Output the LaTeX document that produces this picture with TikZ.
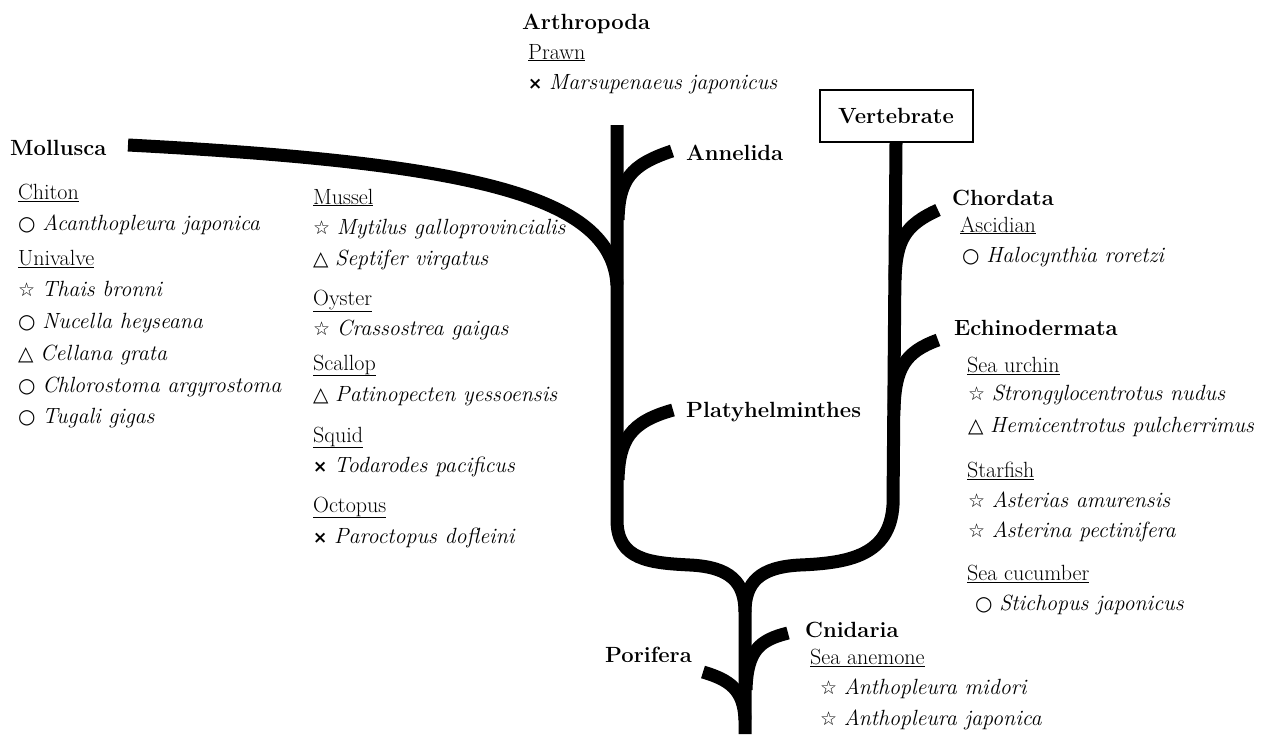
\documentclass[tikz,border=0pt]{standalone}
\usepackage{fontspec}
\newfontfamily\symfont{DejaVu Sans}
\newcommand{\spStar}{{\symfont\fontsize{19}{19}\selectfont ☆}}
\newcommand{\spCirc}{{\symfont\fontsize{20}{20}\selectfont ○}}
\newcommand{\spTri}{{\symfont\fontsize{20}{20}\selectfont △}}
\newcommand{\spCross}{{\symfont\bfseries\fontsize{17}{17}\selectfont ×}}
\tikzset{
  branch/.style={line width=13pt},
  lab/.style={anchor=base west, inner sep=0pt, font=\fontsize{22}{26}\selectfont},
  phylum/.style={lab, font=\fontsize{22}{26}\selectfont\bfseries},
}
\begin{document}
\begin{tikzpicture}[x=1pt, y=-1pt]
    \useasboundingbox (0,0) rectangle (1274,734);

    % Vertebrate box
    \node[draw, line width=2pt, minimum width=153pt, minimum height=52pt,
          font=\fontsize{22}{26}\selectfont\bfseries] (vert) at (896,116) {Vertebrate};

    % Tree
    \draw[branch] (617,125) -- (617,520) .. controls (617,560) and (650,563) .. (690,565)
        .. controls (730,567) and (745,582) .. (745,612) -- (745,734);
    \draw[branch] (vert.south) -- (893,505) .. controls (890,555) and (850,563) .. (800,565)
        .. controls (760,567) and (745,582) .. (745,612);
    \draw[branch] (128,145) .. controls (470,163) and (612,195) .. (617,285);
    \draw[branch] (672,151) .. controls (630,165) and (619,180) .. (618,220);
    \draw[branch] (673,410) .. controls (630,422) and (619,440) .. (618,480);
    \draw[branch] (938,210) .. controls (905,225) and (896,240) .. (895,280);
    \draw[branch] (938,340) .. controls (905,352) and (895,368) .. (894,410);
    \draw[branch] (788,633) .. controls (760,640) and (747,650) .. (746,690);
    \draw[branch] (703,672) .. controls (730,680) and (744,690) .. (745,720);

    % Arthropoda
    \node[phylum] (arthro) at (522,29) {Arthropoda};
    \node[lab] (prawn) at (528,59) {\underline{Prawn}};
    \node[lab] (prawn1) at (528,89) {\spCross\ \textit{Marsupenaeus japonicus}};

    % Annelida, Platyhelminthes
    \node[phylum] (annel) at (686,160) {Annelida};
    \node[phylum] (platy) at (686,417) {Platyhelminthes};

    % Mollusca
    \node[phylum] (moll) at (10,155) {Mollusca};
    \node[lab] (chiton) at (18,199) {\underline{Chiton}};
    \node[lab] (chiton1) at (18,230) {\spCirc\ \textit{Acanthopleura japonica}};
    \node[lab] (univ) at (18,265) {\underline{Univalve}};
    \node[lab] (univ1) at (18,296) {\spStar\ \textit{Thais bronni}};
    \node[lab] (univ2) at (18,328) {\spCirc\ \textit{Nucella heyseana}};
    \node[lab] (univ3) at (18,360) {\spTri\ \textit{Cellana grata}};
    \node[lab] (univ4) at (18,392) {\spCirc\ \textit{Chlorostoma argyrostoma}};
    \node[lab] (univ5) at (18,423) {\spCirc\ \textit{Tugali gigas}};

    \node[lab] (mussel) at (313,204) {\underline{Mussel}};
    \node[lab] (mussel1) at (313,234) {\spStar\ \textit{Mytilus galloprovincialis}};
    \node[lab] (mussel2) at (313,265) {\spTri\ \textit{Septifer virgatus}};
    \node[lab] (oyster) at (313,305) {\underline{Oyster}};
    \node[lab] (oyster1) at (313,335) {\spStar\ \textit{Crassostrea gaigas}};
    \node[lab] (scallop) at (313,370) {\underline{Scallop}};
    \node[lab] (scallop1) at (313,401) {\spTri\ \textit{Patinopecten yessoensis}};
    \node[lab] (squid) at (313,442) {\underline{Squid}};
    \node[lab] (squid1) at (313,472) {\spCross\ \textit{Todarodes pacificus}};
    \node[lab] (octo) at (313,512) {\underline{Octopus}};
    \node[lab] (octo1) at (313,543) {\spCross\ \textit{Paroctopus dofleini}};

    % Chordata
    \node[phylum] (chord) at (952,205) {Chordata};
    \node[lab] (ascid) at (960,232) {\underline{Ascidian}};
    \node[lab] (ascid1) at (962,262) {\spCirc\ \textit{Halocynthia roretzi}};

    % Echinodermata
    \node[phylum] (echino) at (954,335) {Echinodermata};
    \node[lab] (urchin) at (967,372) {\underline{Sea urchin}};
    \node[lab] (urchin1) at (968,400) {\spStar\ \textit{Strongylocentrotus nudus}};
    \node[lab] (urchin2) at (968,432) {\spTri\ \textit{Hemicentrotus pulcherrimus}};
    \node[lab] (starf) at (967,477) {\underline{Starfish}};
    \node[lab] (starf1) at (968,507) {\spStar\ \textit{Asterias amurensis}};
    \node[lab] (starf2) at (968,537) {\spStar\ \textit{Asterina pectinifera}};
    \node[lab] (cucum) at (967,580) {\underline{Sea cucumber}};
    \node[lab] (cucum1) at (975,610) {\spCirc\ \textit{Stichopus japonicus}};

    % Cnidaria, Porifera
    \node[phylum] (cnid) at (805,637) {Cnidaria};
    \node[lab] (anem) at (810,664) {\underline{Sea anemone}};
    \node[lab] (anem1) at (820,694) {\spStar\ \textit{Anthopleura midori}};
    \node[lab] (anem2) at (820,725) {\spStar\ \textit{Anthopleura japonica}};
    \node[phylum] (pori) at (605,662) {Porifera};
\end{tikzpicture}
\end{document}
